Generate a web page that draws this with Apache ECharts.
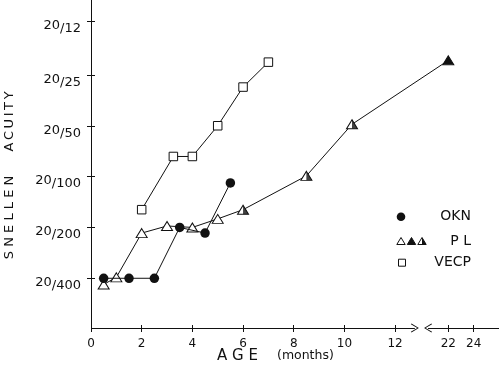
<!DOCTYPE html>
<html><head><meta charset="utf-8">
<script src="https://cdn.jsdelivr.net/npm/echarts@6/dist/echarts.min.js"></script>
<style>html,body{margin:0;padding:0;background:#fff}#c{width:500px;height:373px}</style>
</head><body><div id="c"></div>
<script>
// ---- data (age in months, Snellen denominator 20/x) ----
const okAge = [0.5, 1.5, 2.5, 3.5, 4.5, 5.5];
const okDen = [400, 400, 400, 200, 216, 109];
const plAge = [0.5, 1, 2, 3, 4, 5, 6, 8.5, 10.3, 22];
const plDen = [435, 395, 216, 196, 200, 178, 157, 99, 49, 20.5];
const plKind = ['open', 'open', 'open', 'open', 'open', 'open', 'half', 'half', 'half', 'filled'];
const vecpAge = [2, 3.25, 4, 5, 6, 7];
const vecpDen = [157, 76, 76, 50, 29.5, 21];
const xTickAges = [0, 2, 4, 6, 8, 10, 12, 22, 24];
const yTickDens = [12, 25, 50, 100, 200, 400];

// broken age axis: 0-12 linear, then 22-24 compressed
function toAxis(a) { return a <= 12 ? a : 14.1 + (a - 22) * 0.5; }

const FONT = 'DejaVu Sans';
const INK = '#111';
const xTickPos = xTickAges.map(toAxis);
const X_MIN = 0, X_MAX = 16.1, Y_MIN = 9, Y_MAX = 788;

const chev = 'path://M0 74 L45 0 L90 74 L82 80 L45 16 L8 80 Z';
const halfTri = 'path://M0 0 L10 10 L0 10 Z';

const plData = plAge.map((a, i) => {
  const kind = plKind[i];
  return {
    value: [toAxis(a), plDen[i]],
    symbol: 'triangle',
    itemStyle: kind === 'filled'
      ? { color: INK, borderColor: INK, borderWidth: 1 }
      : { color: '#fff', borderColor: INK, borderWidth: 1 }
  };
});
const plHalf = plAge.map((a, i) => plKind[i] === 'half' ? [toAxis(a), plDen[i]] : null).filter(d => d);

const xBase = {
  type: 'value', min: X_MIN, max: X_MAX, position: 'bottom',
  axisLine: { show: false }, splitLine: { show: false }
};
const yBase = {
  type: 'log', min: Y_MIN, max: Y_MAX, inverse: true, position: 'left',
  splitLine: { show: false }
};

const chart = echarts.init(document.getElementById('c'), null, { renderer: 'canvas' });
chart.setOption({
  animation: false,
  backgroundColor: '#fff',
  grid: { left: 91, top: 0, width: 408, height: 328 },
  xAxis: [
    Object.assign({}, xBase, {
      axisTick: { show: true, inside: false, length: 4, lineStyle: { color: INK }, customValues: xTickPos },
      axisLabel: {
        show: true, margin: 10, color: INK, fontFamily: FONT, fontSize: 12,
        customValues: xTickPos,
        formatter: v => { const i = xTickPos.findIndex(p => Math.abs(p - v) < 1e-6); return i >= 0 ? String(xTickAges[i]) : ''; }
      }
    }),
    Object.assign({}, xBase, {
      axisTick: { show: true, inside: true, length: 3, lineStyle: { color: INK }, customValues: xTickPos },
      axisLabel: { show: false }
    })
  ],
  yAxis: [
    Object.assign({}, yBase, {
      axisLine: { show: true, lineStyle: { color: INK, width: 1 } },
      axisTick: { show: true, inside: false, length: 4, lineStyle: { color: INK }, customValues: yTickDens },
      axisLabel: {
        show: true, margin: 10, color: INK, fontFamily: FONT,
        customValues: yTickDens, padding: [12, 0, 0, 0],
        formatter: v => '{a|20}{b|/' + Math.round(v) + '}',
        rich: {
          a: { fontFamily: FONT, fontSize: 13, color: INK, verticalAlign: 'top', lineHeight: 14 },
          b: { fontFamily: FONT, fontSize: 13, color: INK, verticalAlign: 'bottom', lineHeight: 16 }
        }
      }
    }),
    Object.assign({}, yBase, {
      axisLine: { show: false },
      axisTick: { show: true, inside: true, length: 4, lineStyle: { color: INK }, customValues: yTickDens },
      axisLabel: { show: false }
    })
  ],
  series: [
    {
      name: 'PL', type: 'line', data: plData, symbolSize: [11, 9], z: 3, clip: false,
      lineStyle: { color: INK, width: 1 },
      markLine: {
        silent: true, symbol: ['none', chev], symbolSize: [9, 8],
        label: { show: false },
        lineStyle: { color: INK, width: 1, type: 'solid' },
        itemStyle: { color: INK },
        emphasis: { disabled: true },
        data: [
          [{ coord: [X_MIN, Y_MAX] }, { coord: [12.78, Y_MAX] }],
          [{ coord: [X_MAX, Y_MAX] }, { coord: [13.3, Y_MAX] }]
        ]
      }
    },
    {
      name: 'PL half', type: 'scatter', data: plHalf, symbol: halfTri,
      symbolSize: [5.5, 9], symbolOffset: [2.75, 0], z: 4,
      itemStyle: { color: INK }
    },
    {
      name: 'OKN', type: 'line', data: okAge.map((a, i) => [toAxis(a), okDen[i]]),
      symbol: 'circle', symbolSize: 9.5, z: 5,
      itemStyle: { color: INK, borderWidth: 0 },
      lineStyle: { color: INK, width: 1 }
    },
    {
      name: 'VECP', type: 'line', data: vecpAge.map((a, i) => [toAxis(a), vecpDen[i]]),
      symbol: 'rect', symbolSize: 8.5, z: 4,
      itemStyle: { color: '#fff', borderColor: INK, borderWidth: 1 },
      lineStyle: { color: INK, width: 1 }
    }
  ],
  graphic: [
    // axis titles
    { type: 'text', x: 10, y: 217.5, rotation: Math.PI / 2,
      style: { text: 'S N E L L E N', font: '13px "DejaVu Sans"', fill: INK, align: 'center', verticalAlign: 'middle' } },
    { type: 'text', x: 10, y: 121.5, rotation: Math.PI / 2,
      style: { text: 'A\u2009C\u2009U\u2009I\u2009T\u2009Y', font: '13px "DejaVu Sans"', fill: INK, align: 'center', verticalAlign: 'middle' } },
    { type: 'text', x: 217, y: 356,
      style: { text: 'A G E', font: '15px "DejaVu Sans"', fill: INK, align: 'left', verticalAlign: 'middle' } },
    { type: 'text', x: 277, y: 356,
      style: { text: '(months)', font: '12.5px "DejaVu Sans"', fill: INK, align: 'left', verticalAlign: 'middle' } },
    // legend
    { type: 'circle', shape: { cx: 401, cy: 216.7, r: 4.3 }, style: { fill: INK } },
    { type: 'text', x: 471, y: 216.7, style: { text: 'OKN', font: '14px "DejaVu Sans"', fill: INK, align: 'right', verticalAlign: 'middle' } },
    { type: 'polygon', shape: { points: [[401, 237.5], [405.2, 244.5], [396.8, 244.5]] }, style: { fill: '#fff', stroke: INK, lineWidth: 1 } },
    { type: 'polygon', shape: { points: [[411.5, 237.5], [415.7, 244.5], [407.3, 244.5]] }, style: { fill: INK, stroke: INK, lineWidth: 1 } },
    { type: 'polygon', shape: { points: [[422, 237.5], [426.2, 244.5], [417.8, 244.5]] }, style: { fill: '#fff', stroke: INK, lineWidth: 1 } },
    { type: 'polygon', shape: { points: [[422, 237.5], [426.2, 244.5], [422, 244.5]] }, style: { fill: INK } },
    { type: 'text', x: 471, y: 241, style: { text: 'P L', font: '14px "DejaVu Sans"', fill: INK, align: 'right', verticalAlign: 'middle' } },
    { type: 'rect', shape: { x: 398.5, y: 259.2, width: 7, height: 7 }, style: { fill: '#fff', stroke: INK, lineWidth: 1 } },
    { type: 'text', x: 471, y: 262.5, style: { text: 'VECP', font: '14px "DejaVu Sans"', fill: INK, align: 'right', verticalAlign: 'middle' } }
  ]
});
</script>
</body></html>
